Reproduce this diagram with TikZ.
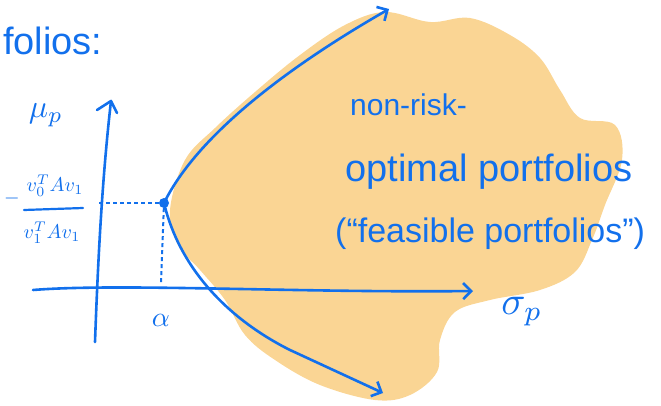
\documentclass[tikz,border=0pt]{standalone}
\usepackage{fontspec}
\setmainfont{Liberation Sans}
\usetikzlibrary{arrows.meta}
\definecolor{pen}{RGB}{18,112,236}
\definecolor{blob}{RGB}{250,213,148}
\tikzset{
  ink/.style={draw=pen, line width=2.6pt, line cap=round, line join=round},
  dashink/.style={draw=pen, line width=2pt, dash pattern=on 4pt off 3pt},
  barb/.style={-{Straight Barb[length=8pt,width=16pt,line width=2.6pt]}},
  txt/.style={text=pen, inner sep=0pt, anchor=base west},
  mth/.style={text=pen, inner sep=0pt}
}
\begin{document}
\begin{tikzpicture}[x=1pt,y=-1pt]
\useasboundingbox (0,0) rectangle (661,406);
% feasible region blob
\fill[blob] plot[smooth cycle, tension=0.6] coordinates {
 (170,210) (185,160) (215,128) (255,92) (300,55) (345,25) (385,12) (430,22) (470,18)
 (510,35) (540,58) (560,90) (580,118) (615,125) (622,160) (605,205) (592,240)
 (575,272) (540,290) (490,300) (455,312) (440,340) (437,372) (410,395) (375,400)
 (320,385) (275,360) (245,335) (225,300) (200,270) (178,245)};
% axes
\coordinate (ys) at (95,342);
\coordinate (ye) at (111,101);
\draw[ink] (ys) .. controls (98,260) and (102,180) .. (ye);
\draw[ink] (97,110) -- (ye) -- (117,113);
\coordinate (xs) at (33,290);
\coordinate (xe) at (473,291);
\draw[ink, barb] (xs) .. controls (120,283) and (300,293) .. (xe);
% point
\node[circle, fill=pen, minimum size=10pt, inner sep=0pt] (pt) at (164,203) {};
\coordinate (yax) at (99,203);
\coordinate (xax) at (161,284);
\draw[dashink] (yax) -- (pt);
\draw[dashink] (pt) -- (xax);
% frontier
\coordinate (top) at (389,9);
\coordinate (bot) at (383,393);
\draw[ink, barb] (pt.center) .. controls (200,130) and (300,60) .. (top);
\draw[ink, barb] (pt.center) .. controls (180,270) and (230,320) .. (290,350) -- (bot);
% labels
\node[txt, font=\fontsize{38}{40}\selectfont] (folios) at (3,55) {folios:};
\node[mth] (mu) at (46,115) {\scalebox{3.2}{$\mu_p$}};
% fraction
\node[mth] (minus) at (12,199) {\scalebox{2}{$-$}};
\node[mth] (num) at (55,186) {\scalebox{2}{$v_0^{T}Av_1$}};
\node[mth] (den) at (52,233) {\scalebox{2}{$v_1^{T}Av_1$}};
\coordinate (fl) at (24,210);
\coordinate (fr) at (83,208);
\draw[pen, line width=2.2pt, line cap=round] (fl) -- (fr);
\node[mth] (alpha) at (161,320) {\scalebox{2.8}{$\alpha$}};
\node[mth] (sigma) at (522,312) {\scalebox{4}{$\sigma_p$}};
\node[txt, font=\fontsize{30}{32}\selectfont] (l1) at (350,116) {non-risk-};
\node[txt, font=\fontsize{38}{40}\selectfont] (l2) at (345,182) {optimal portfolios};
\node[txt, font=\fontsize{34}{36}\selectfont] (l3) at (335,242) {(``feasible portfolios'')};
\end{tikzpicture}
\end{document}
